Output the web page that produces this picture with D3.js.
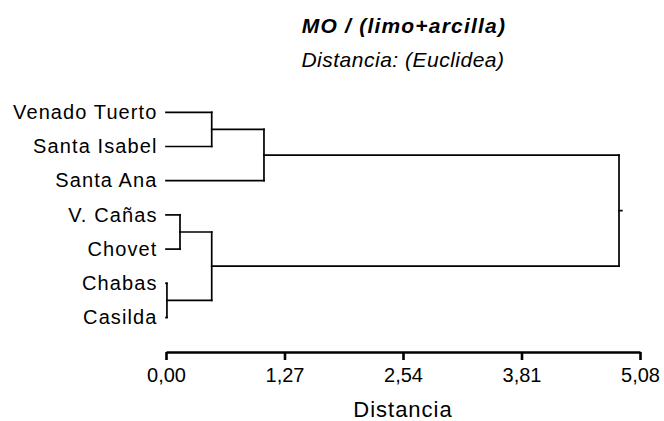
<!DOCTYPE html>
<html>
<head>
<meta charset="utf-8">
<script src="https://cdn.jsdelivr.net/npm/d3@7"></script>
<style>
  html, body { margin: 0; padding: 0; background: #fff; }
  svg { display: block; font-family: Arial, "Liberation Sans", sans-serif; }
</style>
</head>
<body>
<svg id="chart" width="664" height="421"></svg>
<script>
// ---- data ----
const leaves = ["Venado Tuerto", "Santa Isabel", "Santa Ana", "V. Cañas", "Chovet", "Chabas", "Casilda"];
// merges: node ids 0..6 are leaves, merge k gets id 7+k
const mergeLeft   = [5, 3, 0, 8, 9, 11];
const mergeRight  = [6, 4, 1, 7, 2, 10];
const mergeHeight = [0.01, 0.15, 0.49, 0.49, 1.05, 4.855];
const rootStub = 0.03;
const tickValues = [0, 1.27, 2.54, 3.81, 5.08];
const tickLabels = ["0,00", "1,27", "2,54", "3,81", "5,08"];
const title = "MO / (limo+arcilla)";
const subtitle = "Distancia: (Euclidea)";
const xTitle = "Distancia";

// ---- layout ----
const svg = d3.select("#chart");
const x = d3.scaleLinear().domain([0, 5.08]).range([166, 640]);
const y = d3.scalePoint().domain(d3.range(leaves.length)).range([112.3, 317.5]);

// node positions
const nodeY = leaves.map((d, i) => y(i));
const nodeH = leaves.map(() => 0);
mergeLeft.forEach((a, k) => {
  const b = mergeRight[k];
  nodeY.push((nodeY[a] + nodeY[b]) / 2);
  nodeH.push(mergeHeight[k]);
});

const g = svg.append("g")
  .attr("fill", "none")
  .attr("stroke", "#000")
  .attr("stroke-width", 1.7)
  .attr("stroke-linecap", "square");

mergeLeft.forEach((a, k) => {
  const b = mergeRight[k];
  const h = mergeHeight[k];
  [a, b].forEach(c => {
    g.append("line")
      .attr("x1", x(nodeH[c])).attr("x2", x(h))
      .attr("y1", nodeY[c]).attr("y2", nodeY[c]);
  });
  g.append("line")
    .attr("x1", x(h)).attr("x2", x(h))
    .attr("y1", nodeY[a]).attr("y2", nodeY[b]);
});
// root stub
const rootId = nodeY.length - 1;
g.append("line")
  .attr("x1", x(nodeH[rootId])).attr("x2", x(nodeH[rootId] + rootStub))
  .attr("y1", nodeY[rootId]).attr("y2", nodeY[rootId]);

// leaf labels
svg.append("g").selectAll("text").data(leaves).join("text")
  .attr("x", 157.5)
  .attr("y", (d, i) => y(i))
  .attr("dy", "0.33em")
  .attr("text-anchor", "end")
  .attr("font-size", 20)
  .attr("letter-spacing", 1.1)
  .attr("fill", "#000")
  .text(d => d);

// axis
const axis = d3.axisBottom(x)
  .tickValues(tickValues)
  .tickFormat((d, i) => tickLabels[i])
  .tickSize(8)
  .tickPadding(8)
  .tickSizeOuter(0);
const ax = svg.append("g").attr("transform", "translate(0,352)").call(axis);
ax.select(".domain").attr("stroke", "#000").attr("stroke-width", 2.6);
ax.selectAll(".tick line").attr("stroke", "#000").attr("stroke-width", 2.6);
ax.selectAll(".tick text")
  .attr("font-size", 20)
  .attr("font-family", "Arial, 'Liberation Sans', sans-serif")
  .attr("fill", "#000");

svg.append("text")
  .attr("x", 403).attr("y", 417)
  .attr("text-anchor", "middle")
  .attr("font-size", 22)
  .attr("letter-spacing", 1)
  .attr("fill", "#000")
  .text(xTitle);

// titles
svg.append("text")
  .attr("x", 404).attr("y", 33)
  .attr("text-anchor", "middle")
  .attr("font-size", 21)
  .attr("letter-spacing", 1.2)
  .attr("font-weight", "bold")
  .attr("font-style", "italic")
  .attr("fill", "#000")
  .text(title);
svg.append("text")
  .attr("x", 403).attr("y", 67)
  .attr("text-anchor", "middle")
  .attr("font-size", 21)
  .attr("letter-spacing", 0.5)
  .attr("font-style", "italic")
  .attr("fill", "#000")
  .text(subtitle);
</script>
</body>
</html>
